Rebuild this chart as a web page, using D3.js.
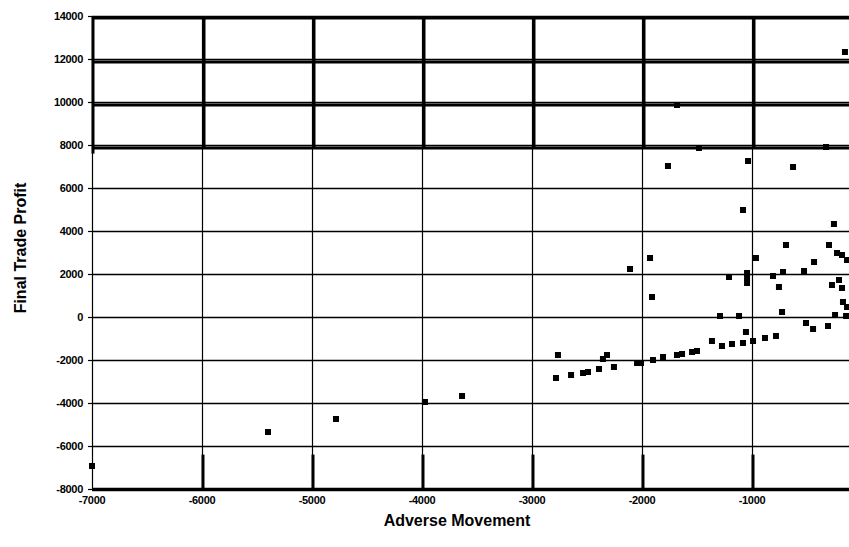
<!DOCTYPE html>
<html><head><meta charset="utf-8">
<script src="https://cdn.jsdelivr.net/npm/d3@7"></script>
<style>
html,body{margin:0;padding:0;background:#fff;}
svg{display:block;}
text{font-family:"Liberation Sans",Arial,sans-serif;fill:#000;}
</style></head>
<body>
<svg id="c" width="849" height="547"></svg>
<script>
// ---- data ----
const xTicks = [-7000, -6000, -5000, -4000, -3000, -2000, -1000];
const yTicks = [-8000, -6000, -4000, -2000, 0, 2000, 4000, 6000, 8000, 10000, 12000, 14000];
const xTitle = "Adverse Movement";
const yTitle = "Final Trade Profit";
const advMove = [
 -7000,-5400,-4782,-3973,-3636,-155,-1682,-1482,-327,-1764,-1036,-627,-1082,-255,-691,-300,-227,-182,-136,
 -1927,-2109,-964,-436,-527,-718,-809,-1045,-1045,-1045,-1209,-755,-273,-209,-182,-1909,-173,-136,-727,
 -1291,-1118,-245,-145,-509,-445,-309,-1055,-1364,-1273,-1182,-1082,-991,-882,-782,-1545,-1500,-1636,
 -1682,-1809,-1900,-2045,-2009,-2255,-2318,-2355,-2764,-2782,-2645,-2536,-2491,-2391];
const tradeProfit = [
 -6930,-5350,-4744,-3953,-3674,12326,9861,7861,7907,7023,7256,6977,4977,4326,3349,3349,2977,2884,2651,
 2744,2233,2744,2558,2140,2093,1907,2047,1814,1582,1861,1396,1489,1721,1349,930,698,465,233,
 47,47,93,47,-279,-558,-419,-698,-1116,-1349,-1255,-1209,-1116,-976,-883,-1628,-1581,-1721,
 -1767,-1860,-2000,-2140,-2140,-2325,-1767,-1953,-1767,-2837,-2698,-2605,-2558,-2418];

// ---- layout ----
const svg = d3.select("#c");
const x = d3.scaleLinear().domain([-7000, 0]).range([92, 862]);
const y = d3.scaleLinear().domain([-8000, 14000]).range([489, 16]);
const pL = 92, pR = 849, pT = 16, pB = 489;

const g = svg.append("g");

// horizontal gridlines
g.selectAll("line.hg").data(yTicks).join("line")
  .attr("x1", pL).attr("x2", pR)
  .attr("y1", d => Math.round(y(d)) + 0.5).attr("y2", d => Math.round(y(d)) + 0.5)
  .attr("stroke", "#000").attr("stroke-width", 1.4);

// vertical gridlines
g.selectAll("line.vg").data(xTicks).join("line")
  .attr("x1", d => Math.round(x(d)) + 0.5).attr("x2", d => Math.round(x(d)) + 0.5)
  .attr("y1", pT).attr("y2", pB)
  .attr("stroke", "#000").attr("stroke-width", 1.2);

// heavy scan-like overlay in upper band (8000..14000)
const upper = yTicks.filter(d => d >= 8000);
g.selectAll("line.hh").data(upper).join("line")
  .attr("x1", pL).attr("x2", pR)
  .attr("y1", d => y(d) + (d === 14000 ? 2 : 3)).attr("y2", d => y(d) + (d === 14000 ? 2 : 3))
  .attr("stroke", "#000").attr("stroke-width", 3);
g.selectAll("line.vh").data(xTicks).join("line")
  .attr("x1", d => x(d) + (d === -7000 ? 1 : 2)).attr("x2", d => x(d) + (d === -7000 ? 1 : 2))
  .attr("y1", pT + 1).attr("y2", d => d === -7000 ? y(7600) : y(8000) + 3)
  .attr("stroke", "#000").attr("stroke-width", 3);
// heavy stubs at bottom
g.selectAll("line.vb").data(xTicks.filter(d => d > -7000)).join("line")
  .attr("x1", d => x(d) + 1).attr("x2", d => x(d) + 1)
  .attr("y1", y(-6400)).attr("y2", pB)
  .attr("stroke", "#000").attr("stroke-width", 3);
// bottom axis heavy
g.append("line").attr("x1", pL).attr("x2", pR).attr("y1", pB + 0.5).attr("y2", pB + 0.5)
  .attr("stroke", "#000").attr("stroke-width", 3.5);

// y tick marks
g.selectAll("line.yt").data(yTicks).join("line")
  .attr("x1", pL - 4).attr("x2", pL)
  .attr("y1", d => Math.round(y(d)) + 0.5).attr("y2", d => Math.round(y(d)) + 0.5)
  .attr("stroke", "#000").attr("stroke-width", 1.2);

// tick labels
g.selectAll("text.yl").data(yTicks).join("text")
  .attr("x", 83).attr("y", d => y(d) + 4)
  .attr("text-anchor", "end")
  .attr("font-size", 11).attr("font-weight", "bold").attr("letter-spacing", -0.3)
  .text(d => d);
g.selectAll("text.xl").data(xTicks).join("text")
  .attr("x", d => x(d)).attr("y", 504)
  .attr("text-anchor", "middle")
  .attr("font-size", 11).attr("font-weight", "bold").attr("letter-spacing", -0.3)
  .text(d => d);

// points
const pts = advMove.map((v, i) => ({ x: v, y: tradeProfit[i] }));
g.selectAll("rect.pt").data(pts).join("rect")
  .attr("x", d => x(d.x) - 3).attr("y", d => y(d.y) - 3)
  .attr("width", 6).attr("height", 6)
  .attr("fill", "#000");

// titles
svg.append("text").attr("x", 457).attr("y", 526)
  .attr("text-anchor", "middle").attr("font-size", 16).attr("font-weight", "bold")
  .text(xTitle);
svg.append("text").attr("transform", "translate(26,248) rotate(-90)")
  .attr("text-anchor", "middle").attr("font-size", 16).attr("font-weight", "bold")
  .text(yTitle);
</script>
</body></html>
